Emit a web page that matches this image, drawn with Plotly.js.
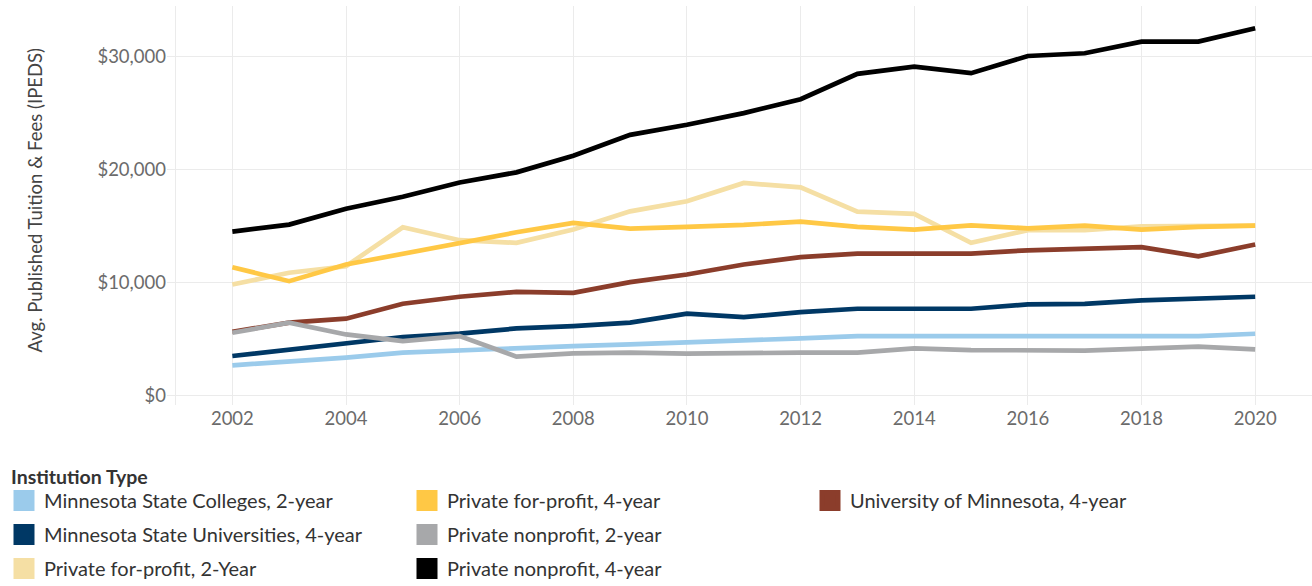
<!DOCTYPE html>
<html>
<head>
<meta charset="utf-8">
<script src="https://cdn.plot.ly/plotly-3.0.1.min.js"></script>
<style>html,body{margin:0;padding:0;background:#fff;}#chart{width:1312px;height:586px;}</style>
</head>
<body>
<div id="chart"></div>
<script>
const years = [2002,2003,2004,2005,2006,2007,2008,2009,2010,2011,2012,2013,2014,2015,2016,2017,2018,2019,2020];

const mnStateColleges2yr = [2710,3040,3390,3830,4030,4270,4410,4560,4710,4890,5090,5290,5290,5260,5260,5240,5270,5290,5500];
const mnStateUniv4yr = [3530,4060,4620,5210,5510,5970,6180,6480,7270,6970,7410,7710,7710,7710,8090,8150,8450,8600,8770];
const privForProfit2yr = [9860,10890,11470,14910,13770,13540,14710,16320,17210,18830,18440,16300,16100,13540,14650,14650,15000,15060,15060];
const privForProfit4yr = [11380,10150,11620,12590,13540,14470,15300,14800,14950,15120,15420,14950,14710,15090,14820,15060,14710,14950,15060];
const privNonprofit2yr = [5590,6480,5440,4850,5290,3480,3770,3830,3740,3830,3830,3830,4210,4060,4060,4010,4180,4360,4120];
const privNonprofit4yr = [14530,15150,16560,17620,18880,19770,21240,23090,23980,25010,26240,28480,29120,28540,30060,30300,31330,31330,32510];
const univMinnesota4yr = [5680,6480,6830,8150,8770,9210,9120,10060,10740,11620,12270,12590,12590,12590,12880,13010,13150,12350,13390];

const seriesNames = {
  msc: "Minnesota State Colleges, 2-year",
  msu: "Minnesota State Universities, 4-year",
  pfp2: "Private for-profit, 2-Year",
  pfp4: "Private for-profit, 4-year",
  pnp2: "Private nonprofit, 2-year",
  pnp4: "Private nonprofit, 4-year",
  umn: "University of Minnesota, 4-year"
};
const yTickVals = [0, 10000, 20000, 30000];
const yTickText = ['$0', '$10,000', '$20,000', '$30,000'];
const xTickVals = [2002,2004,2006,2008,2010,2012,2014,2016,2018,2020];
const yTitle = 'Avg. Published Tuition & Fees (IPEDS)';
const legendTitle = 'Institution Type';

const colors = {
  msc: '#9BCBEB', msu: '#003865', pfp2: '#F5DFA4', pfp4: '#FFC845',
  pnp2: '#A7A8AA', pnp4: '#000000', umn: '#8B3D2B'
};
const values = {
  msc: mnStateColleges2yr, msu: mnStateUniv4yr, pfp2: privForProfit2yr,
  pfp4: privForProfit4yr, pnp2: privNonprofit2yr, pnp4: privNonprofit4yr, umn: univMinnesota4yr
};

const drawOrder = ['msc','msu','umn','pfp2','pfp4','pnp2','pnp4'];
const legendCols = { msc:'legend', msu:'legend', pfp2:'legend', pfp4:'legend2', pnp2:'legend2', pnp4:'legend2', umn:'legend3' };
const legendOrder = ['msc','msu','pfp2','pfp4','pnp2','pnp4','umn'];

const traces = [];
drawOrder.forEach(k => {
  traces.push({
    type: 'scatter', mode: 'lines', x: years, y: values[k], name: seriesNames[k],
    line: { color: colors[k], width: 4.7 }, showlegend: false, hoverinfo: 'x+y+name'
  });
});
legendOrder.forEach(k => {
  traces.push({
    type: 'scatter', mode: 'markers', x: [null], y: [null], name: seriesNames[k],
    legend: legendCols[k], legendgroup: k,
    marker: { symbol: 'square', size: 16, color: colors[k], line: { color: colors[k], width: 7 } },
    showlegend: true
  });
});

const font = 'Lato, "Open Sans", sans-serif';
const legendBase = {
  orientation: 'v', xref: 'container', yref: 'container', xanchor: 'left', yanchor: 'top',
  y: 0.179, traceorder: 'grouped', tracegroupgap: 5, bgcolor: 'rgba(0,0,0,0)',
  font: { family: font, size: 20, color: '#333333' }, itemclick: false, itemdoubleclick: false
};

const layout = {
  width: 1312, height: 586,
  margin: { l: 167, r: 0, t: 6, b: 181, autoexpand: false },
  paper_bgcolor: '#ffffff', plot_bgcolor: '#ffffff',
  font: { family: font, color: '#666666' },
  xaxis: {
    range: [2000.85, 2021.0], tickmode: 'array', tickvals: xTickVals, automargin: false,
    showgrid: true, gridcolor: '#EBEBEB', gridwidth: 1, zeroline: false, showline: false,
    ticks: '', tickangle: 0, tickfont: { family: font, size: 18.5, color: '#6B6B6B' },
    minor: { tickmode: 'array', tickvals: [2001], showgrid: true, gridcolor: '#EBEBEB', gridwidth: 1, ticks: '' }
  },
  yaxis: {
    range: [-800, 34480], tickmode: 'array', tickvals: yTickVals, ticktext: yTickText, automargin: false,
    showgrid: true, gridcolor: '#EBEBEB', gridwidth: 1, zeroline: false, showline: false,
    ticks: '', tickfont: { family: font, size: 18.5, color: '#6B6B6B' }
  },
  legend: Object.assign({}, legendBase, { x: 4/1312 }),
  legend2: Object.assign({}, legendBase, { x: 407/1312 }),
  legend3: Object.assign({}, legendBase, { x: 810/1312 }),
  annotations: [
    {
      text: '<b>' + legendTitle + '</b>', xref: 'paper', yref: 'paper',
      x: (9 - 167) / 1145, y: (405 - 476) / 399, xanchor: 'left', yanchor: 'middle',
      showarrow: false, font: { family: font, size: 19.5, color: '#333333' }
    },
    {
      text: yTitle, xref: 'paper', yref: 'paper', textangle: -90,
      x: (34.5 - 167) / 1145, y: (405 - 200) / 399, xanchor: 'center', yanchor: 'middle',
      showarrow: false, font: { family: font, size: 18.5, color: '#444444' }
    }
  ],
  showlegend: true
};

Plotly.newPlot('chart', traces, layout, { displayModeBar: false, staticPlot: true });
</script>
</body>
</html>
